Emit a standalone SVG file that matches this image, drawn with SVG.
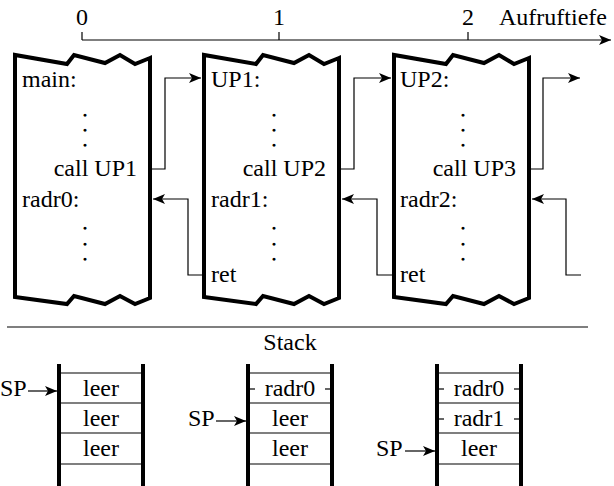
<svg xmlns="http://www.w3.org/2000/svg" width="614" height="486" viewBox="0 0 614 486">
<style>
.thick{fill:none;stroke:#000;stroke-width:4;stroke-linejoin:miter}
.thin{fill:none;stroke:#000;stroke-width:1.2}
.dot{stroke:#000;stroke-width:1.6}
</style>
<defs>
<marker id="ah" viewBox="0 0 12 10" refX="12" refY="5" markerWidth="12" markerHeight="10" markerUnits="userSpaceOnUse" orient="auto">
<path d="M0,0 L12,5 L0,10 L3,5 Z" fill="#000"/>
</marker>
</defs>
<g id="axis">
<line class="thin" x1="82" y1="40" x2="611" y2="40" marker-end="url(#ah)"/>
<line class="thin" x1="82" y1="32" x2="82" y2="40"/>
<line class="thin" x1="279" y1="32" x2="279" y2="40"/>
<line class="thin" x1="468" y1="32" x2="468" y2="40"/>
<text font-family="Liberation Serif" font-size="24" text-anchor="middle" x="82" y="25">0</text>
<text font-family="Liberation Serif" font-size="24" text-anchor="middle" x="279" y="25">1</text>
<text font-family="Liberation Serif" font-size="24" text-anchor="middle" x="468" y="25">2</text>
<text font-family="Liberation Serif" font-size="24" x="499" y="25">Aufruftiefe</text>
</g>
<g id="box0">
<path class="thick" d="M150,58 L135,64 L120,55 L105,63 L74,55 L67,64 L15,55 L15,297 L67,304 L74,296 L105,304 L120,296 L135,304 L150,298 Z"/>
<text font-family="Liberation Serif" font-size="24" x="22" y="87">main:</text>
<text class="dot" font-family="Liberation Serif" font-size="12" text-anchor="middle" x="85" y="116">.</text>
<text class="dot" font-family="Liberation Serif" font-size="12" text-anchor="middle" x="85" y="130.5">.</text>
<text class="dot" font-family="Liberation Serif" font-size="12" text-anchor="middle" x="85" y="145.5">.</text>
<text font-family="Liberation Serif" font-size="24" text-anchor="end" x="137" y="176">call UP1</text>
<text font-family="Liberation Serif" font-size="24" x="22" y="207">radr0:</text>
<text class="dot" font-family="Liberation Serif" font-size="12" text-anchor="middle" x="85" y="228.5">.</text>
<text class="dot" font-family="Liberation Serif" font-size="12" text-anchor="middle" x="85" y="244.5">.</text>
<text class="dot" font-family="Liberation Serif" font-size="12" text-anchor="middle" x="85" y="259.5">.</text>
</g>
<g id="box1">
<path class="thick" d="M339,58 L324,64 L309,55 L294,63 L263,55 L256,64 L204,55 L204,297 L256,304 L263,296 L294,304 L309,296 L324,304 L339,298 Z"/>
<text font-family="Liberation Serif" font-size="24" x="211" y="87">UP1:</text>
<text class="dot" font-family="Liberation Serif" font-size="12" text-anchor="middle" x="274" y="116">.</text>
<text class="dot" font-family="Liberation Serif" font-size="12" text-anchor="middle" x="274" y="130.5">.</text>
<text class="dot" font-family="Liberation Serif" font-size="12" text-anchor="middle" x="274" y="145.5">.</text>
<text font-family="Liberation Serif" font-size="24" text-anchor="end" x="326" y="176">call UP2</text>
<text font-family="Liberation Serif" font-size="24" x="211" y="207">radr1:</text>
<text class="dot" font-family="Liberation Serif" font-size="12" text-anchor="middle" x="274" y="228.5">.</text>
<text class="dot" font-family="Liberation Serif" font-size="12" text-anchor="middle" x="274" y="244.5">.</text>
<text class="dot" font-family="Liberation Serif" font-size="12" text-anchor="middle" x="274" y="259.5">.</text>
<text font-family="Liberation Serif" font-size="24" x="211" y="282">ret</text>
</g>
<g id="box2">
<path class="thick" d="M529,58 L514,64 L499,55 L484,63 L453,55 L446,64 L394,55 L394,297 L446,304 L453,296 L484,304 L499,296 L514,304 L529,298 Z"/>
<text font-family="Liberation Serif" font-size="24" x="400" y="87">UP2:</text>
<text class="dot" font-family="Liberation Serif" font-size="12" text-anchor="middle" x="463" y="116">.</text>
<text class="dot" font-family="Liberation Serif" font-size="12" text-anchor="middle" x="463" y="130.5">.</text>
<text class="dot" font-family="Liberation Serif" font-size="12" text-anchor="middle" x="463" y="145.5">.</text>
<text font-family="Liberation Serif" font-size="24" text-anchor="end" x="516" y="176">call UP3</text>
<text font-family="Liberation Serif" font-size="24" x="400" y="207">radr2:</text>
<text class="dot" font-family="Liberation Serif" font-size="12" text-anchor="middle" x="463" y="228.5">.</text>
<text class="dot" font-family="Liberation Serif" font-size="12" text-anchor="middle" x="463" y="244.5">.</text>
<text class="dot" font-family="Liberation Serif" font-size="12" text-anchor="middle" x="463" y="259.5">.</text>
<text font-family="Liberation Serif" font-size="24" x="400" y="282">ret</text>
</g>
<g id="connectors">
<polyline class="thin" points="152,169 165,169 165,78 201,78" marker-end="url(#ah)"/>
<polyline class="thin" points="202,275 188,275 188,199 153,199" marker-end="url(#ah)"/>
<polyline class="thin" points="341,169 354,169 354,78 391,78" marker-end="url(#ah)"/>
<polyline class="thin" points="392,275 377,275 377,199 342,199" marker-end="url(#ah)"/>
<polyline class="thin" points="531,169 543,169 543,78 580,78" marker-end="url(#ah)"/>
<polyline class="thin" points="581,275 566,275 566,199 532,199" marker-end="url(#ah)"/>
</g>
<g id="separator">
<line class="thin" x1="7" y1="327" x2="588" y2="327"/>
<text font-family="Liberation Serif" font-size="24" text-anchor="middle" x="290" y="350">Stack</text>
</g>
<g id="stack0">
<line class="thick" x1="59" y1="364" x2="59" y2="486"/>
<line class="thick" x1="143" y1="364" x2="143" y2="486"/>
<line class="thin" x1="59" y1="373" x2="143" y2="373"/>
<line class="thin" x1="59" y1="403" x2="143" y2="403"/>
<line class="thin" x1="59" y1="433" x2="143" y2="433"/>
<line class="thin" x1="59" y1="464" x2="143" y2="464"/>
<text font-family="Liberation Serif" font-size="24" text-anchor="middle" x="101" y="396">leer</text>
<text font-family="Liberation Serif" font-size="24" text-anchor="middle" x="101" y="426">leer</text>
<text font-family="Liberation Serif" font-size="24" text-anchor="middle" x="101" y="456">leer</text>
<text font-family="Liberation Serif" font-size="24" x="0" y="396">SP</text>
<line class="thin" x1="28" y1="391" x2="57" y2="391" marker-end="url(#ah)"/>
</g>
<g id="stack1">
<line class="thick" x1="248" y1="364" x2="248" y2="486"/>
<line class="thick" x1="332" y1="364" x2="332" y2="486"/>
<line class="thin" x1="248" y1="373" x2="332" y2="373"/>
<line class="thin" x1="248" y1="403" x2="332" y2="403"/>
<line class="thin" x1="248" y1="433" x2="332" y2="433"/>
<line class="thin" x1="248" y1="464" x2="332" y2="464"/>
<line class="thin" x1="250" y1="389" x2="255" y2="389"/>
<line class="thin" x1="325" y1="389" x2="330" y2="389"/>
<text font-family="Liberation Serif" font-size="24" text-anchor="middle" x="290" y="396">radr0</text>
<text font-family="Liberation Serif" font-size="24" text-anchor="middle" x="290" y="426">leer</text>
<text font-family="Liberation Serif" font-size="24" text-anchor="middle" x="290" y="456">leer</text>
<text font-family="Liberation Serif" font-size="24" x="188" y="426">SP</text>
<line class="thin" x1="216" y1="421" x2="246" y2="421" marker-end="url(#ah)"/>
</g>
<g id="stack2">
<line class="thick" x1="437" y1="364" x2="437" y2="486"/>
<line class="thick" x1="521" y1="364" x2="521" y2="486"/>
<line class="thin" x1="437" y1="373" x2="521" y2="373"/>
<line class="thin" x1="437" y1="403" x2="521" y2="403"/>
<line class="thin" x1="437" y1="433" x2="521" y2="433"/>
<line class="thin" x1="437" y1="464" x2="521" y2="464"/>
<line class="thin" x1="439" y1="389" x2="444" y2="389"/>
<line class="thin" x1="514" y1="389" x2="519" y2="389"/>
<line class="thin" x1="439" y1="419" x2="444" y2="419"/>
<line class="thin" x1="514" y1="419" x2="519" y2="419"/>
<text font-family="Liberation Serif" font-size="24" text-anchor="middle" x="479" y="396">radr0</text>
<text font-family="Liberation Serif" font-size="24" text-anchor="middle" x="479" y="426">radr1</text>
<text font-family="Liberation Serif" font-size="24" text-anchor="middle" x="479" y="456">leer</text>
<text font-family="Liberation Serif" font-size="24" x="376" y="456">SP</text>
<line class="thin" x1="405" y1="451" x2="435" y2="451" marker-end="url(#ah)"/>
</g>
</svg>
